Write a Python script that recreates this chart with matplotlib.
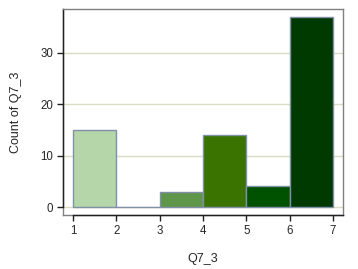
import numpy as np
import matplotlib
matplotlib.use("Agg")
import matplotlib.pyplot as plt

# =========================
# DATA
# =========================
bin_edges = [1, 2, 3, 4, 5, 6, 7]
counts = [15, 0, 3, 14, 4, 37]
bar_colors = ['#b4d6a8', '#b4d6a8', '#5f964a', '#3a7300', '#005200', '#003a00']
x_ticks = [1, 2, 3, 4, 5, 6, 7]
y_ticks = [0, 10, 20, 30]

plt.rcParams['font.family'] = ['Liberation Sans', 'DejaVu Sans']

fig = plt.figure(figsize=(3.58, 2.69), dpi=100)
ax = fig.add_axes([0.176, 0.2007, 0.782, 0.7646])

ax.set_xlim(0.77, 7.23)
ax.set_ylim(-1.55, 38.4)

for y in y_ticks:
    ax.axhline(y, color='#dcdcc6', lw=1, zorder=0)

lefts = np.array(bin_edges[:-1])
widths = np.diff(bin_edges)
ax.bar(lefts, counts, width=widths, align='edge', color=bar_colors,
       edgecolor='#8090a8', linewidth=1, zorder=2)

# gray frame, dark axis lines over the data range
for s in ['top', 'right', 'left', 'bottom']:
    ax.spines[s].set_color('#808080')
    ax.spines[s].set_linewidth(1)
ax.spines['left'].set_color('#202020')
ax.spines['left'].set_bounds(0, 38.4)
ax.spines['bottom'].set_color('#202020')
ax.spines['bottom'].set_bounds(1, 7.23)
ax.plot([0, 1], [0, 0], transform=ax.transAxes, color='#808080', lw=1,
        clip_on=False, zorder=1)
ax.plot([0, 0], [0, 1], transform=ax.transAxes, color='#808080', lw=1,
        clip_on=False, zorder=1)

ax.set_xticks(x_ticks)
ax.set_yticks(y_ticks)
ax.tick_params(axis='both', direction='out', length=4, width=1, color='#202020',
               labelsize=8.3, labelcolor='#262626', pad=3)

ax.set_xlabel('Q7_3', fontsize=9, color='#262626', labelpad=12)
ax.set_ylabel('Count of Q7_3', fontsize=9, color='#262626', labelpad=13)

fig.savefig('out.png', dpi=100)
